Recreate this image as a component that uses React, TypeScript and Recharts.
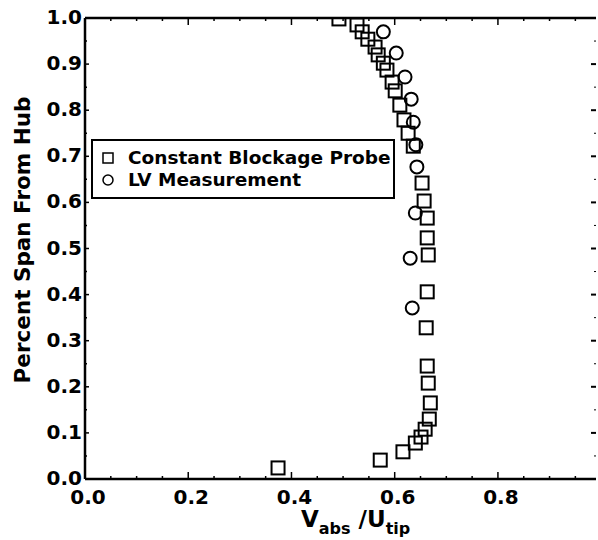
import { ScatterChart, Scatter, XAxis, YAxis, Legend } from 'recharts';

// Constant blockage probe (squares)
const probeVel = [0.492, 0.527, 0.537, 0.548, 0.562, 0.568, 0.578, 0.585, 0.595, 0.601, 0.61, 0.618, 0.626, 0.636, 0.653, 0.657, 0.663, 0.663, 0.665, 0.663, 0.661, 0.663, 0.665, 0.669, 0.667, 0.659, 0.651, 0.64, 0.616, 0.572, 0.374];
const probeSpan = [0.998, 0.985, 0.97, 0.954, 0.937, 0.92, 0.902, 0.887, 0.861, 0.842, 0.811, 0.779, 0.75, 0.722, 0.642, 0.603, 0.566, 0.523, 0.486, 0.406, 0.328, 0.245, 0.208, 0.165, 0.13, 0.108, 0.091, 0.078, 0.059, 0.041, 0.024];

// LV measurement (circles)
const lvVel = [0.578, 0.603, 0.62, 0.632, 0.636, 0.641, 0.643, 0.64, 0.63, 0.634];
const lvSpan = [0.97, 0.924, 0.872, 0.824, 0.774, 0.725, 0.677, 0.577, 0.479, 0.371];

const xTicks = [0, 0.05, 0.1, 0.15, 0.2, 0.25, 0.3, 0.35, 0.4, 0.45, 0.5, 0.55, 0.6, 0.65, 0.7, 0.75, 0.8, 0.85, 0.9, 0.95];
const xMajor = [0, 0.2, 0.4, 0.6, 0.8];
const xLabels = ['0.0', '0.2', '0.4', '0.6', '0.8'];

const yTicks = [0, 0.05, 0.1, 0.15, 0.2, 0.25, 0.3, 0.35, 0.4, 0.45, 0.5, 0.55, 0.6, 0.65, 0.7, 0.75, 0.8, 0.85, 0.9, 0.95, 1];
const yMajor = [0, 0.1, 0.2, 0.3, 0.4, 0.5, 0.6, 0.7, 0.8, 0.9, 1];
const yLabels = ['0.0', '0.1', '0.2', '0.3', '0.4', '0.5', '0.6', '0.7', '0.8', '0.9', '1.0'];

const probeData = probeVel.map((v, i) => ({ v, s: probeSpan[i] }));
const lvData = lvVel.map((v, i) => ({ v, s: lvSpan[i] }));

const FONT = '"DejaVu Sans", sans-serif';

const BottomTick = (props: any) => {
  const { x, y, payload } = props;
  const idx = xMajor.indexOf(payload.value);
  const len = idx >= 0 ? 7 : 3;
  return (
    <g>
      <line x1={x} x2={x} y1={y} y2={y - len} stroke="#000" strokeWidth={1.5} />
      {idx >= 0 && (
        <text x={x + 3} y={y + 18} textAnchor="middle" dominantBaseline="central" fontFamily={FONT} fontWeight="bold" fontSize={20} fill="#000">
          {xLabels[idx]}
        </text>
      )}
    </g>
  );
};

const TopTick = (props: any) => {
  const { x, y, payload } = props;
  const len = xMajor.indexOf(payload.value) >= 0 ? 7 : 3;
  return <line x1={x} x2={x} y1={y} y2={y + len} stroke="#000" strokeWidth={1.5} />;
};

const LeftTick = (props: any) => {
  const { x, y, payload } = props;
  const idx = yMajor.indexOf(payload.value);
  const len = idx >= 0 ? 4 : 2;
  return (
    <g>
      <line x1={x} x2={x + len} y1={y} y2={y} stroke="#000" strokeWidth={1.5} />
      {idx >= 0 && (
        <text x={x - 3} y={y - 1} textAnchor="end" dominantBaseline="central" fontFamily={FONT} fontWeight="bold" fontSize={20} fill="#000">
          {yLabels[idx]}
        </text>
      )}
    </g>
  );
};

const RightTick = (props: any) => {
  const { x, y, payload } = props;
  const major = yMajor.indexOf(payload.value) >= 0;
  return <line x1={x} x2={x - (major ? 5 : 2)} y1={y} y2={y} stroke="#000" strokeWidth={major ? 2 : 1} />;
};

const XTitle = () => (
  <text x={301} y={527} fontFamily={FONT} fontWeight="bold" fontSize={23} fill="#000">
    <tspan>V</tspan>
    <tspan fontSize={16} dy={7}>abs</tspan>
    <tspan dy={-7}> /U</tspan>
    <tspan fontSize={16} dy={7}>tip</tspan>
  </text>
);

const YTitle = () => (
  <text x={22} y={240} transform="rotate(-90 22 240)" textAnchor="middle" dominantBaseline="central" fontFamily={FONT} fontWeight="bold" fontSize={21.5} fill="#000">
    Percent Span From Hub
  </text>
);

const Square = (p: any) => (
  <rect x={p.cx - 6.5} y={p.cy - 6.5} width={13} height={13} fill="none" stroke="#000" strokeWidth={2} />
);

const Circle = (p: any) => <circle cx={p.cx} cy={p.cy} r={6.5} fill="none" stroke="#000" strokeWidth={2} />;

const LegendBox = () => (
  <div
    style={{
      width: 304,
      height: 60,
      boxSizing: 'border-box',
      border: '2px solid #000',
      background: '#fff',
      fontFamily: FONT,
      fontWeight: 'bold',
      fontSize: 18.5,
      color: '#000',
      padding: '6px 0 0 9px',
      lineHeight: '22px',
    }}
  >
    <div style={{ display: 'flex', alignItems: 'center' }}>
      <svg width={12} height={12} style={{ marginRight: 14 }}>
        <rect x={1} y={1} width={10} height={10} fill="none" stroke="#000" strokeWidth={1.5} />
      </svg>
      Constant Blockage Probe
    </div>
    <div style={{ display: 'flex', alignItems: 'center' }}>
      <svg width={12} height={12} style={{ marginRight: 14 }}>
        <circle cx={6} cy={6} r={5} fill="none" stroke="#000" strokeWidth={1.5} />
      </svg>
      LV Measurement
    </div>
  </div>
);

export default function App() {
  return (
    <div style={{ position: 'absolute', left: 0, top: 0, background: '#fff' }}>
      <ScatterChart width={598} height={540} margin={{ top: 0, right: 0, bottom: 0, left: 0 }}>
        <XAxis
          dataKey="v"
          type="number"
          domain={[0, 0.99]}
          ticks={xTicks}
          interval={0}
          tickSize={0}
          tickMargin={0}
          tick={<BottomTick />}
          tickLine={false}
          height={61}
          axisLine={{ stroke: '#000', strokeWidth: 2.5 }}
          allowDataOverflow
          label={<XTitle />}
        />
        <XAxis
          xAxisId="top"
          orientation="top"
          dataKey="v"
          type="number"
          domain={[0, 0.99]}
          ticks={xTicks}
          interval={0}
          tickSize={0}
          tickMargin={0}
          tick={<TopTick />}
          tickLine={false}
          height={18}
          axisLine={{ stroke: '#000', strokeWidth: 2.5 }}
          allowDataOverflow
        />
        <YAxis
          dataKey="s"
          type="number"
          domain={[0, 1]}
          ticks={yTicks}
          interval={0}
          tickSize={0}
          tickMargin={0}
          tick={<LeftTick />}
          tickLine={false}
          width={85}
          axisLine={{ stroke: '#000', strokeWidth: 2.5 }}
          allowDataOverflow
          label={<YTitle />}
        />
        <YAxis
          yAxisId="right"
          orientation="right"
          dataKey="s"
          type="number"
          domain={[0, 1]}
          ticks={yTicks}
          interval={0}
          tickSize={0}
          tickMargin={0}
          tick={<RightTick />}
          tickLine={false}
          width={2}
          axisLine={false}
          allowDataOverflow
        />
        <Legend
          layout="vertical"
          align="center"
          verticalAlign="middle"
          wrapperStyle={{ left: 91, top: 139, width: 304, height: 60 }}
          content={<LegendBox />}
        />
        <Scatter name="Constant Blockage Probe" data={probeData} shape={Square} isAnimationActive={false} />
        <Scatter name="LV Measurement" data={lvData} shape={Circle} isAnimationActive={false} />
        <Scatter xAxisId="top" yAxisId="right" data={[]} isAnimationActive={false} legendType="none" />
      </ScatterChart>
    </div>
  );
}
